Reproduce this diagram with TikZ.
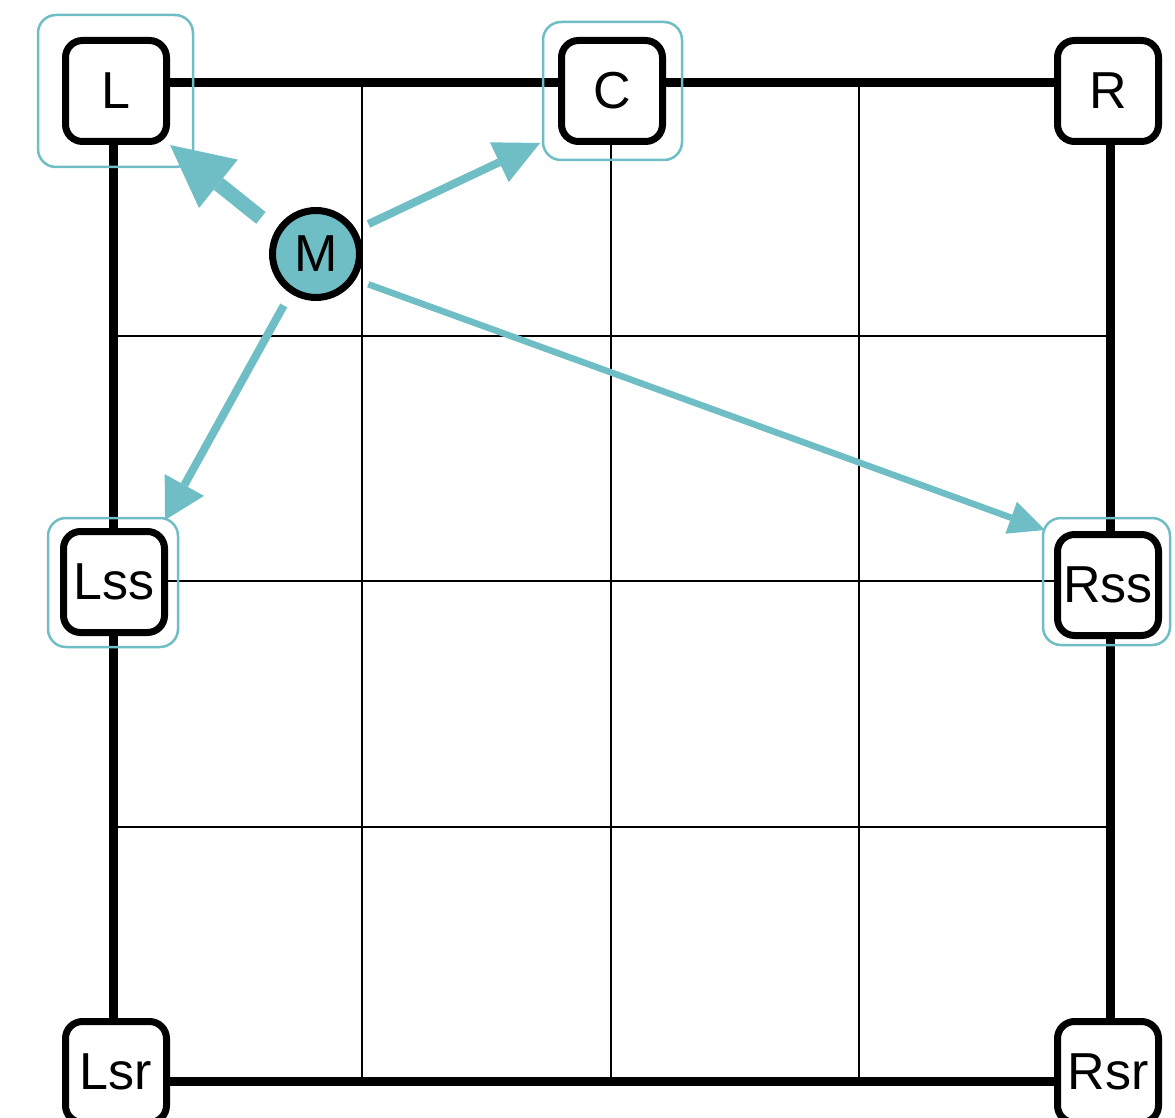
\documentclass[tikz,border=0pt]{standalone}
\usepackage{fontspec}
\setmainfont{Liberation Sans}
\usetikzlibrary{arrows.meta}
\definecolor{tealc}{RGB}{111,190,197}
\begin{document}
\begin{tikzpicture}[x=1pt,y=-1pt,
  box/.style={draw=black, line width=7pt, fill=white, rounded corners=17pt,
    minimum width=101pt, minimum height=101pt, inner sep=0pt,
    font=\fontsize{52}{52}\selectfont},
  hl/.style={draw=tealc, line width=2.5pt, rounded corners=18pt, inner sep=0pt},
  frameline/.style={line width=9pt},
  gridline/.style={line width=2pt},
  tarr/.style={draw=tealc, line cap=butt}
]
\useasboundingbox (0,0) rectangle (1175,1118);
% frame
\coordinate (fTL) at (113,83);
\coordinate (fBR) at (1110,1081);
\draw[frameline] (fTL) rectangle (fBR);
% thin grid
\foreach \x in {362,611,859} \draw[gridline] (\x,87) -- (\x,1077);
\foreach \y in {336,581,827} \draw[gridline] (117,\y) -- (1106,\y);
% boxes
\node[box] (L) at (116,91) {L};
\node[box] (C) at (612,91) {C};
\node[box] (R) at (1108,91) {R};
\node[box] (Lss) at (114,582) {Lss};
\node[box] (Rss) at (1108,585) {Rss};
\node[box] (Lsr) at (116,1072) {Lsr};
\node[box] (Rsr) at (1108,1072) {Rsr};
% highlights
\node[hl, minimum width=155pt, minimum height=152pt] (hL) at (115.5,91) {};
\node[hl, minimum width=139pt, minimum height=138pt] (hC) at (612.5,91) {};
\node[hl, minimum width=130pt, minimum height=129pt] (hLss) at (113,582.5) {};
\node[hl, minimum width=127pt, minimum height=127pt] (hRss) at (1106.5,581.5) {};
% M
\node[circle, draw=black, line width=7pt, fill=tealc, minimum size=87pt, inner sep=0pt,
  font=\fontsize{52}{52}\selectfont] (M) at (316,254) {M};
% tips
\coordinate (tipL) at (170,145);
\coordinate (tipC) at (540,143);
\coordinate (tipLss) at (165,520);
\coordinate (tipRss) at (1045,530);
% arrows
\draw[tarr, line width=15pt, shorten <=19pt,
  -{Triangle[length=62pt,width=62pt,line width=0pt]}] (M.149) -- (tipL);
\draw[tarr, line width=8pt, shorten <=13.5pt,
  -{Triangle[length=45pt,width=44pt,line width=0pt]}] (M.31) -- (tipC);
\draw[tarr, line width=8pt, shorten <=13.7pt,
  -{Triangle[length=40pt,width=45pt,line width=0pt]}] (M.237) -- (tipLss);
\draw[tarr, line width=6.5pt, shorten <=13.7pt,
  -{Triangle[length=36pt,width=34pt,line width=0pt]}] (M.327) -- (tipRss);
\end{tikzpicture}
\end{document}
